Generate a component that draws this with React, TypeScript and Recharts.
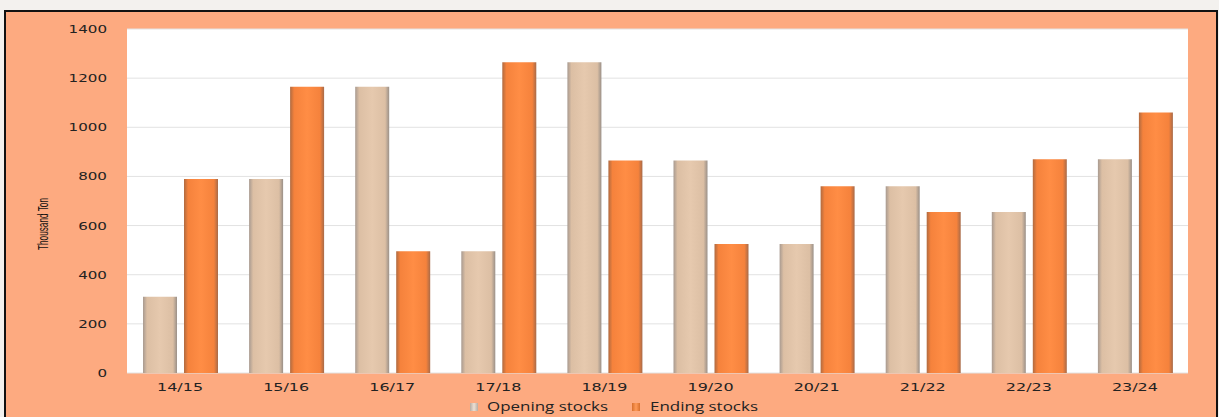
import React from "react";
import { BarChart, Bar, XAxis, YAxis, CartesianGrid, Legend } from "recharts";

const categories = ["14/15", "15/16", "16/17", "17/18", "18/19", "19/20", "20/21", "21/22", "22/23", "23/24"];
const openingStocks = [310, 790, 1165, 495, 1265, 865, 525, 760, 655, 870];
const endingStocks = [790, 1165, 495, 1265, 865, 525, 760, 655, 870, 1060];
const yTicks = [0, 200, 400, 600, 800, 1000, 1200, 1400];
const seriesNames = ["Opening stocks", "Ending stocks"];

const data = categories.map((c, i) => ({
  name: c,
  opening: openingStocks[i],
  ending: endingStocks[i],
}));

const tickFont = "'DejaVu Sans', Verdana, sans-serif";

const XTick = (props: any) => {
  const { x, y, payload } = props;
  const s = String(payload.value);
  return (
    <text x={x} y={y + 10} textAnchor="middle" fontSize={10.5} fill="#222" fontFamily={tickFont} textLength={s.length * 9.2} lengthAdjust="spacingAndGlyphs">
      {s}
    </text>
  );
};

const YTick = (props: any) => {
  const { x, y, payload } = props;
  const s = String(payload.value);
  return (
    <text x={x} y={y + 4} textAnchor="end" fontSize={10} fill="#222" fontFamily={tickFont} textLength={s.length * 9.6} lengthAdjust="spacingAndGlyphs">
      {s}
    </text>
  );
};

const YLabel = (props: any) => {
  const { viewBox } = props;
  const cx = 43;
  const cy = viewBox.y + viewBox.height / 2 + 23;
  return (
    <text x={cx} y={cy} transform={`rotate(-90 ${cx} ${cy})`} textAnchor="middle" dominantBaseline="central" fontSize={14} fill="#111" fontFamily="'Liberation Sans', Arial, sans-serif" textLength={52} lengthAdjust="spacingAndGlyphs">
      Thousand Ton
    </text>
  );
};

const LegendContent = () => (
  <svg width={1219} height={20} style={{ display: "block" }}>
    <defs>
      <linearGradient id="lgOpen" x1="0" y1="0" x2="1" y2="0">
        <stop offset="0%" stopColor="#b8aca2" />
        <stop offset="50%" stopColor="#ece0d4" />
        <stop offset="100%" stopColor="#b8aca2" />
      </linearGradient>
      <linearGradient id="lgEnd" x1="0" y1="0" x2="1" y2="0">
        <stop offset="0%" stopColor="#d8702e" />
        <stop offset="50%" stopColor="#ff9a58" />
        <stop offset="100%" stopColor="#d8702e" />
      </linearGradient>
    </defs>
    <g transform="translate(614,0)">
      <rect x={-144} y={6} width={8} height={8} fill="url(#lgOpen)" />
      <text x={-127} y={14} fontSize={12} fill="#222" fontFamily="'Open Sans', 'Liberation Sans', sans-serif" textLength={121} lengthAdjust="spacingAndGlyphs">
        {seriesNames[0]}
      </text>
      <rect x={18} y={6} width={8} height={8} fill="url(#lgEnd)" />
      <text x={36} y={14} fontSize={12} fill="#222" fontFamily="'Open Sans', 'Liberation Sans', sans-serif" textLength={108} lengthAdjust="spacingAndGlyphs">
        {seriesNames[1]}
      </text>
    </g>
  </svg>
);

export default function App() {
  return (
    <div style={{ position: "fixed", left: 0, top: 0, width: 1219, height: 417, background: "#f3f1ee", overflow: "hidden" }}>
      <div style={{ position: "absolute", left: 4, top: 10, width: 1210, height: 420, background: "#FDAA80", border: "2px solid #111" }} />
      <div style={{ position: "absolute", left: 0, top: 0 }}>
        <BarChart
          width={1219}
          height={417}
          data={data}
          margin={{ top: 29, right: 31, bottom: 0, left: 67 }}
          barCategoryGap={15}
          barGap={7}
        >
          <defs>
            <linearGradient id="gOpen" x1="0" y1="0" x2="1" y2="0">
              <stop offset="0%" stopColor="#a89a90" />
              <stop offset="12%" stopColor="#dcbfa4" />
              <stop offset="50%" stopColor="#e6c9ae" />
              <stop offset="88%" stopColor="#dcbfa4" />
              <stop offset="100%" stopColor="#9a9088" />
            </linearGradient>
            <linearGradient id="gEnd" x1="0" y1="0" x2="1" y2="0">
              <stop offset="0%" stopColor="#b06a40" />
              <stop offset="12%" stopColor="#f5823c" />
              <stop offset="50%" stopColor="#ff8d45" />
              <stop offset="88%" stopColor="#f5823c" />
              <stop offset="100%" stopColor="#a86a48" />
            </linearGradient>
          </defs>
          <CartesianGrid vertical={false} stroke="#e2e2e2" fill="#ffffff" />
          <XAxis dataKey="name" axisLine={false} tickLine={false} height={24} tick={<XTick />} />
          <YAxis
            domain={[0, 1400]}
            ticks={yTicks}
            axisLine={false}
            tickLine={false}
            width={60}
            interval={0}
            tick={<YTick />}
            tickMargin={14}
            label={<YLabel />}
          />
          <Legend verticalAlign="bottom" height={20} wrapperStyle={{ left: 0, width: 1219 }} content={<LegendContent />} />
          <Bar dataKey="opening" name={seriesNames[0]} fill="url(#gOpen)" barSize={34} isAnimationActive={false} />
          <Bar dataKey="ending" name={seriesNames[1]} fill="url(#gEnd)" barSize={34} isAnimationActive={false} />
        </BarChart>
      </div>
    </div>
  );
}
